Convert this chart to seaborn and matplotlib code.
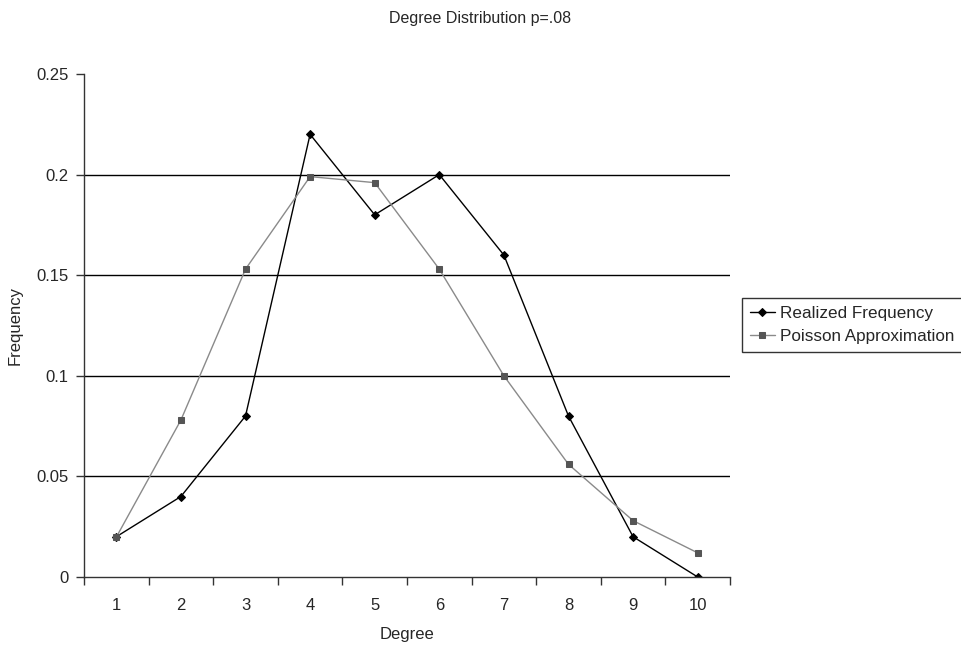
import numpy as np
import pandas as pd
import seaborn as sns
import matplotlib.pyplot as plt
from matplotlib.ticker import FixedLocator, MultipleLocator

degrees = [1, 2, 3, 4, 5, 6, 7, 8, 9, 10]
realized = [0.02, 0.04, 0.08, 0.22, 0.18, 0.20, 0.16, 0.08, 0.02, 0.0]
poisson = [0.0198, 0.078, 0.153, 0.199, 0.196, 0.153, 0.100, 0.056, 0.028, 0.012]
y_ticks = [0, 0.05, 0.1, 0.15, 0.2, 0.25]
y_labels = ["0", "0.05", "0.1", "0.15", "0.2", "0.25"]

sns.set_style("white")
plt.rcParams["font.family"] = ["Liberation Sans", "DejaVu Sans"]

fig = plt.figure(figsize=(9.62, 6.46), dpi=100)
ax = fig.add_axes([84 / 962, 1 - 577 / 646, (730 - 84) / 962, (577 - 74) / 646])

# realized series: black line, black diamonds
sns.lineplot(x=degrees, y=realized, ax=ax, color="black", linewidth=1.0,
             marker="D", markersize=4.2, markeredgecolor="black",
             markerfacecolor="black", label="Realized Frequency")
# poisson series: grey line, dark grey squares
sns.lineplot(x=degrees, y=poisson, ax=ax, color="#8a8a8a", linewidth=1.0,
             marker="s", markersize=5, markeredgecolor="#555555",
             markerfacecolor="#555555", label="Poisson Approximation")

ax.set_xlim(0.5, 10.5)
ax.set_ylim(0, 0.25)

ax.set_xticks(degrees)
ax.set_xticklabels([str(d) for d in degrees])
ax.xaxis.set_minor_locator(MultipleLocator(1, offset=0.5))
ax.tick_params(axis="x", which="major", length=0, pad=15, labelsize=12)
ax.tick_params(axis="x", which="minor", length=6, width=1, color="#333333",
               direction="out", bottom=True)

ax.yaxis.set_major_locator(FixedLocator(y_ticks))
ax.set_yticklabels(y_labels)
ax.tick_params(axis="y", which="major", length=6, width=1, color="#333333",
               direction="out", left=True, pad=5, labelsize=12)

# horizontal gridlines except at the top
ax.yaxis.grid(True, color="black", linewidth=1.0)
for t, v in zip(ax.yaxis.get_major_ticks(), y_ticks):
    if v == 0.25 or v == 0:
        t.gridline.set_visible(False)
ax.set_axisbelow(True)

for side in ["top", "right"]:
    ax.spines[side].set_visible(False)
for side in ["left", "bottom"]:
    ax.spines[side].set_color("#333333")
    ax.spines[side].set_linewidth(1.0)

ax.set_xlabel("Degree", fontsize=12, labelpad=10)
ax.set_ylabel("Frequency", fontsize=12, labelpad=10)
fig.text(480 / 962, 1 - 18 / 646, "Degree Distribution p=.08",
         ha="center", va="center", fontsize=11.5)

ax.get_legend().remove()
handles, labels = ax.get_legend_handles_labels()
leg = fig.legend(handles, labels, loc="upper left",
                 bbox_to_anchor=(742 / 962, 1 - 298 / 646),
                 fontsize=12.3, frameon=True, fancybox=False,
                 edgecolor="black", handlelength=1.5, handletextpad=0.3,
                 borderpad=0.45, labelspacing=0.5, borderaxespad=0)
leg.get_frame().set_linewidth(1.0)

fig.savefig("out.png", dpi=100)
